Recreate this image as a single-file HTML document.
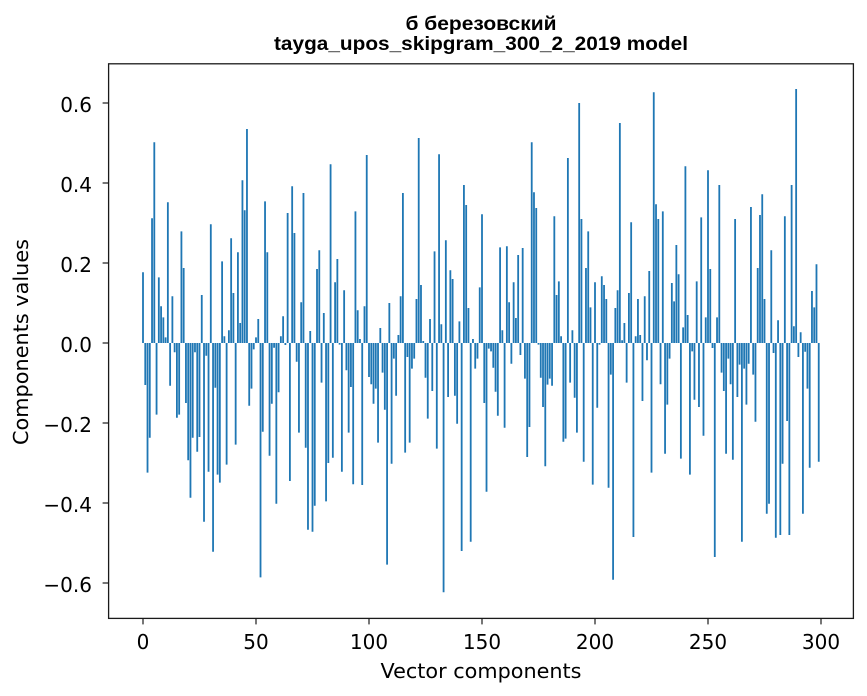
<!DOCTYPE html>
<html><head><meta charset="utf-8"><style>
html,body{margin:0;padding:0;background:#fff;}
svg{display:block;}
.t{font-family:"DejaVu Sans","Liberation Sans",sans-serif;font-size:20px;fill:#000;}
</style></head><body>
<svg width="867" height="696" viewBox="0 0 867 696" xmlns="http://www.w3.org/2000/svg">
<rect width="867" height="696" fill="#fff"/>
<g transform="translate(142.096,343) scale(2.26,-400)" fill="#1f77b4">
<path d="M0 0h.8v.177h-.8zM1 0h.8v-.105h-.8zM2 0h.8v-.324h-.8zM3 0h.8v-.237h-.8zM4 0h.8v.312h-.8zM5 0h.8v.502h-.8zM6 0h.8v-.179h-.8zM7 0h.8v.164h-.8zM8 0h.8v.092h-.8zM9 0h.8v.064h-.8zM10 0h.8v.014h-.8zM11 0h.8v.352h-.8zM12 0h.8v-.107h-.8zM13 0h.8v.117h-.8zM14 0h.8v-.023h-.8zM15 0h.8v-.187h-.8zM16 0h.8v-.179h-.8zM17 0h.8v.279h-.8zM18 0h.8v.1875h-.8zM19 0h.8v-.15h-.8zM20 0h.8v-.293h-.8zM21 0h.8v-.387h-.8zM22 0h.8v-.237h-.8zM23 0h.8v-.023h-.8zM24 0h.8v-.272h-.8zM25 0h.8v-.235h-.8zM26 0h.8v.12h-.8zM27 0h.8v-.447h-.8zM28 0h.8v-.032h-.8zM29 0h.8v-.322h-.8zM30 0h.8v.297h-.8zM31 0h.8v-.522h-.8zM32 0h.8v-.112h-.8zM33 0h.8v-.329h-.8zM34 0h.8v-.349h-.8zM35 0h.8v.204h-.8zM36 0h.8v.017h-.8zM37 0h.8v-.304h-.8zM38 0h.8v.032h-.8zM39 0h.8v.262h-.8zM40 0h.8v.125h-.8zM41 0h.8v-.254h-.8zM42 0h.8v.227h-.8zM43 0h.8v.05h-.8zM44 0h.8v.407h-.8zM45 0h.8v.332h-.8zM46 0h.8v.535h-.8zM47 0h.8v-.157h-.8zM48 0h.8v-.114h-.8zM49 0h.8v-.016h-.8zM50 0h.8v.014h-.8zM51 0h.8v.06h-.8zM52 0h.8v-.586h-.8zM53 0h.8v-.222h-.8zM54 0h.8v.354h-.8zM55 0h.8v.227h-.8zM56 0h.8v-.282h-.8zM57 0h.8v-.152h-.8zM58 0h.8v-.012h-.8zM59 0h.8v-.402h-.8zM60 0h.8v-.123h-.8zM61 0h.8v.017h-.8zM62 0h.8v.067h-.8zM63 0h.8v-.005h-.8zM64 0h.8v.325h-.8zM65 0h.8v-.345h-.8zM66 0h.8v.392h-.8zM67 0h.8v.275h-.8zM68 0h.8v-.047h-.8zM69 0h.8v-.224h-.8zM70 0h.8v.102h-.8zM71 0h.8v.375h-.8zM72 0h.8v-.262h-.8zM73 0h.8v-.467h-.8zM74 0h.8v.03h-.8zM75 0h.8v-.472h-.8zM76 0h.8v-.407h-.8zM77 0h.8v.185h-.8zM78 0h.8v.232h-.8zM79 0h.8v-.099h-.8zM80 0h.8v.075h-.8zM81 0h.8v-.396h-.8zM82 0h.8v-.3h-.8zM83 0h.8v.447h-.8zM84 0h.8v-.287h-.8zM85 0h.8v.152h-.8zM86 0h.8v.21h-.8zM87 0h.8v-.004h-.8zM88 0h.8v-.322h-.8zM89 0h.8v.132h-.8zM90 0h.8v-.068h-.8zM91 0h.8v-.224h-.8zM92 0h.8v-.11h-.8zM93 0h.8v-.353h-.8zM94 0h.8v.329h-.8zM95 0h.8v.082h-.8zM96 0h.8v.01h-.8zM97 0h.8v-.355h-.8zM98 0h.8v.092h-.8zM99 0h.8v.47h-.8zM100 0h.8v-.085h-.8zM101 0h.8v-.103h-.8zM102 0h.8v-.152h-.8zM103 0h.8v-.114h-.8zM104 0h.8v-.249h-.8zM105 0h.8v.0375h-.8zM106 0h.8v-.074h-.8zM107 0h.8v-.167h-.8zM108 0h.8v-.554h-.8zM109 0h.8v.1h-.8zM110 0h.8v-.302h-.8zM111 0h.8v-.039h-.8zM112 0h.8v-.132h-.8zM113 0h.8v.02h-.8zM114 0h.8v.117h-.8zM115 0h.8v.375h-.8zM116 0h.8v-.274h-.8zM117 0h.8v-.035h-.8zM118 0h.8v-.249h-.8zM119 0h.8v-.064h-.8zM120 0h.8v-.039h-.8zM121 0h.8v.11h-.8zM122 0h.8v.5125h-.8zM123 0h.8v.145h-.8zM124 0h.8v.005h-.8zM125 0h.8v-.087h-.8zM126 0h.8v-.189h-.8zM127 0h.8v.06h-.8zM128 0h.8v-.12h-.8zM129 0h.8v.229h-.8zM130 0h.8v-.264h-.8zM131 0h.8v.472h-.8zM132 0h.8v.047h-.8zM133 0h.8v-.623h-.8zM134 0h.8v.257h-.8zM135 0h.8v-.135h-.8zM136 0h.8v.182h-.8zM137 0h.8v.16h-.8zM138 0h.8v-.132h-.8zM139 0h.8v-.202h-.8zM140 0h.8v.054h-.8zM141 0h.8v-.52h-.8zM142 0h.8v.395h-.8zM143 0h.8v.345h-.8zM144 0h.8v.0875h-.8zM145 0h.8v-.497h-.8zM146 0h.8v.01h-.8zM147 0h.8v-.064h-.8zM148 0h.8v-.039h-.8zM149 0h.8v.139h-.8zM150 0h.8v.322h-.8zM151 0h.8v-.15h-.8zM152 0h.8v-.372h-.8zM153 0h.8v-.014h-.8zM154 0h.8v-.021h-.8zM155 0h.8v-.062h-.8zM156 0h.8v-.122h-.8zM157 0h.8v-.182h-.8zM158 0h.8v.239h-.8zM159 0h.8v.032h-.8zM160 0h.8v-.212h-.8zM161 0h.8v.242h-.8zM162 0h.8v.102h-.8zM163 0h.8v-.052h-.8zM164 0h.8v.152h-.8zM165 0h.8v.0625h-.8zM166 0h.8v.22h-.8zM167 0h.8v-.03h-.8zM168 0h.8v.2375h-.8zM169 0h.8v-.089h-.8zM170 0h.8v-.285h-.8zM171 0h.8v-.21h-.8zM172 0h.8v.502h-.8zM173 0h.8v.377h-.8zM174 0h.8v.3375h-.8zM175 0h.8v-.004h-.8zM176 0h.8v-.087h-.8zM177 0h.8v-.16h-.8zM178 0h.8v-.308h-.8zM179 0h.8v-.104h-.8zM180 0h.8v-.089h-.8zM181 0h.8v-.107h-.8zM182 0h.8v.317h-.8zM183 0h.8v.12h-.8zM184 0h.8v.154h-.8zM185 0h.8v.017h-.8zM186 0h.8v-.247h-.8zM187 0h.8v-.239h-.8zM188 0h.8v.4625h-.8zM189 0h.8v-.099h-.8zM190 0h.8v.032h-.8zM191 0h.8v-.137h-.8zM192 0h.8v-.224h-.8zM193 0h.8v.6h-.8zM194 0h.8v.31h-.8zM195 0h.8v-.297h-.8zM196 0h.8v.1875h-.8zM197 0h.8v.279h-.8zM198 0h.8v.089h-.8zM199 0h.8v-.354h-.8zM200 0h.8v.152h-.8zM201 0h.8v-.162h-.8zM202 0h.8v-.004h-.8zM203 0h.8v.167h-.8zM204 0h.8v.145h-.8zM205 0h.8v.11h-.8zM206 0h.8v-.362h-.8zM207 0h.8v-.079h-.8zM208 0h.8v-.592h-.8zM209 0h.8v.0875h-.8zM210 0h.8v.132h-.8zM211 0h.8v.55h-.8zM212 0h.8v.007h-.8zM213 0h.8v.05h-.8zM214 0h.8v-.099h-.8zM215 0h.8v.125h-.8zM216 0h.8v.302h-.8zM217 0h.8v-.485h-.8zM218 0h.8v.017h-.8zM219 0h.8v.11h-.8zM220 0h.8v.02h-.8zM221 0h.8v-.145h-.8zM222 0h.8v.117h-.8zM223 0h.8v-.043h-.8zM224 0h.8v.18h-.8zM225 0h.8v-.324h-.8zM226 0h.8v.627h-.8zM227 0h.8v.347h-.8zM228 0h.8v.31h-.8zM229 0h.8v-.103h-.8zM230 0h.8v.329h-.8zM231 0h.8v-.277h-.8zM232 0h.8v-.154h-.8zM233 0h.8v-.039h-.8zM234 0h.8v.15h-.8zM235 0h.8v.104h-.8zM236 0h.8v.245h-.8zM237 0h.8v.172h-.8zM238 0h.8v-.289h-.8zM239 0h.8v.039h-.8zM240 0h.8v.442h-.8zM241 0h.8v.07h-.8zM242 0h.8v-.329h-.8zM243 0h.8v-.021h-.8zM244 0h.8v-.142h-.8zM245 0h.8v.154h-.8zM246 0h.8v-.16h-.8zM247 0h.8v.314h-.8zM248 0h.8v-.232h-.8zM249 0h.8v.064h-.8zM250 0h.8v.432h-.8zM251 0h.8v.185h-.8zM252 0h.8v-.0125h-.8zM253 0h.8v-.535h-.8zM254 0h.8v.064h-.8zM255 0h.8v.395h-.8zM256 0h.8v-.074h-.8zM257 0h.8v-.12h-.8zM258 0h.8v-.277h-.8zM259 0h.8v-.039h-.8zM260 0h.8v-.103h-.8zM261 0h.8v-.292h-.8zM262 0h.8v.31h-.8zM263 0h.8v-.135h-.8zM264 0h.8v-.054h-.8zM265 0h.8v-.497h-.8zM266 0h.8v-.064h-.8zM267 0h.8v-.154h-.8zM268 0h.8v-.052h-.8zM269 0h.8v.34h-.8zM270 0h.8v-.079h-.8zM271 0h.8v-.197h-.8zM272 0h.8v.1875h-.8zM273 0h.8v.32h-.8zM274 0h.8v.372h-.8zM275 0h.8v.11h-.8zM276 0h.8v-.427h-.8zM277 0h.8v-.402h-.8zM278 0h.8v.232h-.8zM279 0h.8v-.025h-.8zM280 0h.8v-.487h-.8zM281 0h.8v.057h-.8zM282 0h.8v-.48h-.8zM283 0h.8v-.302h-.8zM284 0h.8v.317h-.8zM285 0h.8v-.195h-.8zM286 0h.8v-.48h-.8zM287 0h.8v.395h-.8zM288 0h.8v.042h-.8zM289 0h.8v.635h-.8zM290 0h.8v-.035h-.8zM291 0h.8v.027h-.8zM292 0h.8v-.427h-.8zM293 0h.8v-.022h-.8zM294 0h.8v-.114h-.8zM295 0h.8v-.312h-.8zM296 0h.8v.13h-.8zM297 0h.8v.089h-.8zM298 0h.8v.197h-.8zM299 0h.8v-.297h-.8z"/>
</g>
<!-- spines -->
<rect x="108.6" y="63.8" width="744.8" height="554.6" fill="none" stroke="#1a1a1a" stroke-width="1.3"/>
<!-- ticks -->
<g stroke="#1a1a1a" stroke-width="1.2">
<line x1="102.6" y1="103" x2="108.6" y2="103"/>
<line x1="102.6" y1="183" x2="108.6" y2="183"/>
<line x1="102.6" y1="263" x2="108.6" y2="263"/>
<line x1="102.6" y1="343" x2="108.6" y2="343"/>
<line x1="102.6" y1="423" x2="108.6" y2="423"/>
<line x1="102.6" y1="503" x2="108.6" y2="503"/>
<line x1="102.6" y1="583" x2="108.6" y2="583"/>
<line x1="143" y1="618.4" x2="143" y2="624.4"/>
<line x1="256" y1="618.4" x2="256" y2="624.4"/>
<line x1="369" y1="618.4" x2="369" y2="624.4"/>
<line x1="482" y1="618.4" x2="482" y2="624.4"/>
<line x1="595" y1="618.4" x2="595" y2="624.4"/>
<line x1="708" y1="618.4" x2="708" y2="624.4"/>
<line x1="821" y1="618.4" x2="821" y2="624.4"/>
</g>
<g class="t" text-anchor="end">
<text x="92" y="112">0.6</text>
<text x="92" y="192">0.4</text>
<text x="92" y="272">0.2</text>
<text x="92" y="352">0.0</text>
<text x="92" y="432">−0.2</text>
<text x="92" y="512">−0.4</text>
<text x="92" y="592">−0.6</text>
</g>
<g class="t" text-anchor="middle">
<text x="143" y="649">0</text>
<text x="256" y="649">50</text>
<text x="369" y="649">100</text>
<text x="482" y="649">150</text>
<text x="595" y="649">200</text>
<text x="708" y="649">250</text>
<text x="821" y="649">300</text>
</g>
<text class="t" x="481" y="678" text-anchor="middle" textLength="201" lengthAdjust="spacingAndGlyphs">Vector components</text>
<text class="t" transform="translate(28,342) rotate(-90)" text-anchor="middle" textLength="206" lengthAdjust="spacingAndGlyphs">Components values</text>
<g font-family="'Liberation Sans','DejaVu Sans',sans-serif" font-weight="bold" font-size="19.5" text-anchor="middle" fill="#000">
<text x="481" y="30" textLength="151" lengthAdjust="spacingAndGlyphs">б березовский</text>
<text x="481" y="50" textLength="414" lengthAdjust="spacingAndGlyphs">tayga_upos_skipgram_300_2_2019 model</text>
</g>
</svg>
</body></html>
